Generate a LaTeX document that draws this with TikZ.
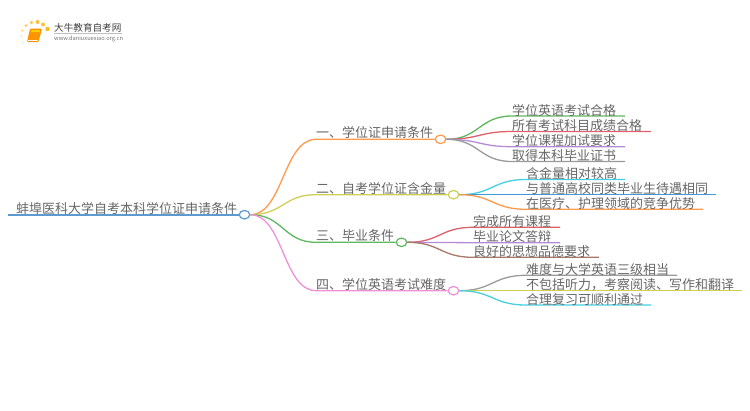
\documentclass[tikz,border=0pt]{standalone}
\usepackage{fontspec}
\setmainfont{Noto Sans CJK SC}[Scale=1]
\usetikzlibrary{shapes.geometric,calc}
\definecolor{txt}{HTML}{666666}
\definecolor{cRoot}{HTML}{5B9BD0}
\definecolor{cOrange}{HTML}{FF9A4D}
\definecolor{cYellow}{HTML}{CFCF55}
\definecolor{cGreen}{HTML}{5DB85D}
\definecolor{cPink}{HTML}{EE90D8}
\definecolor{cRed}{HTML}{E0606A}
\definecolor{cPurple}{HTML}{B48AD8}
\definecolor{cGray}{HTML}{9A9A9A}
\definecolor{cCyan}{HTML}{45CFE0}
\definecolor{cBlue}{HTML}{4098D8}
\definecolor{cBrown}{HTML}{A87868}
\tikzset{
  lab/.style={anchor=base west,inner sep=0pt,text=txt,font=\fontsize{13}{13}\selectfont},
  hub/.style={ellipse,draw=#1,fill=white,line width=1.2pt,minimum width=10.5pt,minimum height=8.5pt,inner sep=0pt},
  wire/.style={draw=#1,line width=1.3pt},
}
\newcommand{\linkto}[4]{% colour, from, to, underline end
  \path[wire=#1] let \p1=(#2),\p2=(#3) in (#2) .. controls ({0.5*\x1+0.5*\x2},\y1) and ({0.5*\x1+0.5*\x2},\y2) .. (#3) -- (#4);}
\begin{document}
\begin{tikzpicture}[x=1pt,y=-1pt]
\useasboundingbox (0,0) rectangle (750,410);
% logo
\foreach \px/\py/\r/\c in {23.5/42.5/1.0/.25,21.5/36/1.2/.35,22.5/30.5/1.4/.45,26/25.5/1.7/.6,31.5/22.5/1.9/.7,37.5/22/2/.8,43/24.5/2/.8,47.5/29/2.2/.9}
  \fill[orange!60!yellow,opacity=\c] (\px,\py) circle (\r);
\fill[orange!85!yellow,rounded corners=1pt] (30,28.5) -- (42,28.5) -- (38.5,42) -- (27,42) -- cycle;
\fill[yellow!70!orange] (31.5,30) -- (40,30) -- (39.5,32) -- (31,32) -- cycle;
\draw[white,line width=.5pt] (28,40.5) -- (37.5,40.5);
\node[anchor=base west,inner sep=0pt,text=black!75,font=\fontsize{9.6}{9.6}\selectfont] (logoT) at (54,31) {大牛教育自考网};
\draw[black!25,line width=.4pt] (54,33.5) -- (122,33.5);
\node[anchor=base west,inner sep=0pt,text=black!55,font=\fontsize{5.7}{6}\selectfont] (logoU) at (54,40.5) {www.daniuxuexiao.org.cn};
% hubs
\coordinate (rs) at (8,214.7);
\node[hub=cRoot] (root) at (244.5,214.7) {};
\node[hub=cOrange] (h1) at (440.5,139.3) {};
\node[hub=cYellow] (h2) at (453.5,194.7) {};
\node[hub=cGreen] (h3) at (401.5,242.3) {};
\node[hub=cPink] (h4) at (453.5,290.7) {};
\draw[cRoot,line width=1.6pt] (rs) -- (root.west);
% branch ends
\coordinate (b1) at (316,139.3); \coordinate (b2) at (316,194.7);
\coordinate (b3) at (316,242.3); \coordinate (b4) at (316,290.7);
\linkto{cOrange}{root.east}{b1}{h1.west}
\linkto{cYellow}{root.east}{b2}{h2.west}
\linkto{cGreen}{root.east}{b3}{h3.west}
\linkto{cPink}{root.east}{b4}{h4.west}
% leaf coordinates
\coordinate (a1) at (512,116); \coordinate (e1) at (625,116);
\coordinate (a2) at (512,131.5); \coordinate (e2) at (651,131.5);
\coordinate (a3) at (512,146.7); \coordinate (e3) at (625,146.7);
\coordinate (a4) at (512,161.5); \coordinate (e4) at (625,161.5);
\coordinate (a5) at (526,179.5); \coordinate (e5) at (625,179.5);
\coordinate (a6) at (526,194.7); \coordinate (e6) at (716,194.7);
\coordinate (a7) at (526,209.3); \coordinate (e7) at (703,209.3);
\coordinate (a8) at (473,227.3); \coordinate (e8) at (560,227.3);
\coordinate (a9) at (473,242.7); \coordinate (e9) at (560,242.7);
\coordinate (a10) at (473,257.3); \coordinate (e10) at (599,257.3);
\coordinate (a11) at (526,275.3); \coordinate (e11) at (677,275.3);
\coordinate (a12) at (526,290.7); \coordinate (e12) at (742,290.7);
\coordinate (a13) at (526,305); \coordinate (e13) at (651,305);
\linkto{cGreen}{h1.east}{a1}{e1}
\linkto{cRed}{h1.east}{a2}{e2}
\linkto{cPurple}{h1.east}{a3}{e3}
\linkto{cGray}{h1.east}{a4}{e4}
\linkto{cCyan}{h2.east}{a5}{e5}
\linkto{cBlue}{h2.east}{a6}{e6}
\linkto{cOrange}{h2.east}{a7}{e7}
\linkto{cRed}{h3.east}{a8}{e8}
\linkto{cPurple}{h3.east}{a9}{e9}
\linkto{cBrown}{h3.east}{a10}{e10}
\linkto{cGray}{h4.east}{a11}{e11}
\linkto{cYellow}{h4.east}{a12}{e12}
\linkto{cCyan}{h4.east}{a13}{e13}
% labels
\node[lab] (tr) at (16,213.5) {蚌埠医科大学自考本科学位证申请条件};
\node[lab] (t1) at (316,137.5) {一、学位证申请条件};
\node[lab] (t2) at (316,193) {二、自考学位证含金量};
\node[lab] (t3) at (316,240.5) {三、毕业条件};
\node[lab] (t4) at (316,289) {四、学位英语考试难度};
\node[lab] (l1) at (512,115) {学位英语考试合格};
\node[lab] (l2) at (512,130.5) {所有考试科目成绩合格};
\node[lab] (l3) at (512,145.5) {学位课程加试要求};
\node[lab] (l4) at (512,160.5) {取得本科毕业证书};
\node[lab] (l5) at (526,178.5) {含金量相对较高};
\node[lab] (l6) at (526,193.5) {与普通高校同类毕业生待遇相同};
\node[lab] (l7) at (526,208.5) {在医疗、护理领域的竞争优势};
\node[lab] (l8) at (473,226.5) {完成所有课程};
\node[lab] (l9) at (473,241.5) {毕业论文答辩};
\node[lab] (l10) at (473,256.5) {良好的思想品德要求};
\node[lab] (l11) at (526,274.5) {难度与大学英语三级相当};
\node[lab] (l12) at (526,289.5) {不包括听力，考察阅读、写作和翻译};
\node[lab] (l13) at (526,304) {合理复习可顺利通过};
\end{tikzpicture}
\end{document}
